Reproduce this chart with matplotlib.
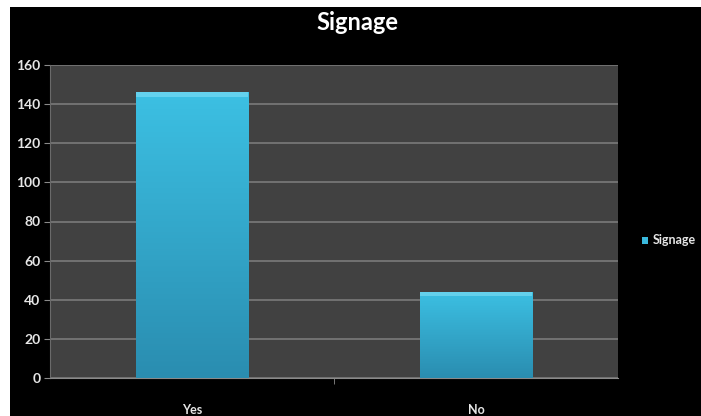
"""Signage 柱状图"""

import matplotlib
matplotlib.use('Agg')
import matplotlib.pyplot as plt
from matplotlib.patches import Rectangle
import numpy as np

# 数据
categories = ['Yes', 'No']
counts = [146, 44]
series_name = 'Signage'
y_ticks = [0, 20, 40, 60, 80, 100, 120, 140, 160]

plt.rcParams['font.family'] = ['Lato', 'DejaVu Sans']

W, H = 701, 416
fig = plt.figure(figsize=(W / 100, H / 100), dpi=100)
fig.patch.set_facecolor('white')

# 黑色背景区域（左、上留白边）
fig.patches.append(Rectangle((10 / W, 0), 1, 1 - 7 / H, transform=fig.transFigure,
                             facecolor='black', edgecolor='none', zorder=-5))

ax = fig.add_axes([50 / W, 1 - 378 / H, 568 / W, 313 / H])
ax.set_facecolor('#414141')

x = np.arange(len(categories))
bar_w = 0.395
bars = ax.bar(x, counts, width=bar_w, color='#35b4d8', edgecolor='none', zorder=2)

# 柱子渐变：上亮下暗
grad = np.linspace(0, 1, 256).reshape(-1, 1)
cmap = matplotlib.colors.LinearSegmentedColormap.from_list('bar', ['#2a8db0', '#3cc0e3'])
for b in bars:
    x0, w, h = b.get_x(), b.get_width(), b.get_height()
    im = ax.imshow(grad, extent=[x0, x0 + w, 0, h], origin='lower', aspect='auto',
                   cmap=cmap, zorder=3)
    im.set_clip_path(b)
    # 顶部高光条
    ax.add_patch(Rectangle((x0, h - 2.2), w, 2.2, facecolor='#6fd6f0', edgecolor='none',
                           alpha=0.8, zorder=4))

ax.set_xlim(-0.5, len(categories) - 0.5)
ax.set_ylim(0, 160)
ax.set_yticks(y_ticks)
ax.set_xticks([0.5], minor=True)
ax.set_xticks(x)
ax.set_xticklabels(categories)
ax.grid(axis='y', color='#7a7a7a', linewidth=1.2, zorder=1)
ax.set_axisbelow(True)

for side in ('top', 'right'):
    ax.spines[side].set_visible(False)
ax.spines['left'].set_color('#6a6a6a')
ax.spines['bottom'].set_color('#8a8a8a')
ax.tick_params(axis='y', colors='#e6e6e6', labelsize=10, length=4, color='#8a8a8a', pad=3)
ax.tick_params(axis='x', colors='#e6e6e6', labelsize=9, length=0, pad=19)
ax.tick_params(axis='x', which='minor', length=4, color='#8a8a8a')
for lbl in ax.get_yticklabels() + ax.get_xticklabels():
    lbl.set_fontweight('bold')

fig.text(357 / W, 1 - 22 / H, 'Signage', ha='center', va='center', color='white',
         fontsize=17, fontweight='bold')

# 图例
fig.patches.append(Rectangle((642 / W, 1 - 244 / H), 6 / W, 7 / H, transform=fig.transFigure,
                             facecolor='#3ab9dd', edgecolor='none', zorder=5))
fig.text(653 / W, 1 - 240 / H, series_name, ha='left', va='center', color='#e6e6e6',
         fontsize=9, fontweight='bold')

fig.savefig('out.png', dpi=100, facecolor=fig.get_facecolor())
